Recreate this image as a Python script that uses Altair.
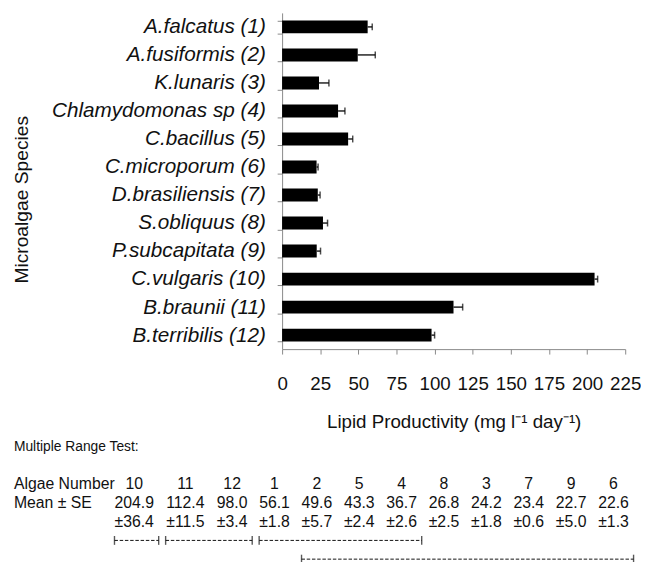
import altair as alt
import pandas as pd

# ---------------- data ----------------
species = ["A.falcatus (1)", "A.fusiformis (2)", "K.lunaris (3)", "Chlamydomonas sp (4)",
           "C.bacillus (5)", "C.microporum (6)", "D.brasiliensis (7)", "S.obliquus (8)",
           "P.subcapitata (9)", "C.vulgaris (10)", "B.braunii (11)", "B.terribilis (12)"]
algae_number = [1, 2, 3, 4, 5, 6, 7, 8, 9, 10, 11, 12]
mean_lp = [56.1, 49.6, 24.2, 36.7, 43.3, 22.6, 23.4, 26.8, 22.7, 204.9, 112.4, 98.0]
se_lp = [1.8, 5.7, 1.8, 2.6, 2.4, 1.3, 0.6, 2.5, 5.0, 36.4, 11.5, 3.4]
# error bar lengths as drawn in the figure
err_drawn = [3.0, 11.5, 6.5, 4.5, 3.0, 1.0, 1.5, 3.0, 2.5, 2.0, 6.0, 2.0]
x_ticks = [0, 25, 50, 75, 100, 125, 150, 175, 200, 225]

test_order = [10, 11, 12, 1, 2, 5, 4, 8, 3, 7, 9, 6]
groups_row1 = [(10, 10), (11, 12), (1, 4)]
groups_row2 = [(2, 6)]

FONT = "Liberation Sans"
INK = "#111111"
GREY = "#888888"

# ---------------- bar chart ----------------
bars_df = pd.DataFrame({
    "species": species,
    "mean": mean_lp,
    "hi": [m + e for m, e in zip(mean_lp, err_drawn)],
})

y_axis = alt.Axis(
    title="Microalgae Species", titleFontSize=19.5, titleFontWeight="normal",
    titleColor=INK, titleFont=FONT, titleX=-254, titleY=189,
    labelFont=FONT, labelFontSize=21, labelFontStyle="italic", labelColor=INK,
    labelPadding=12, tickBand="extent", tickSize=5, tickColor=GREY,
    domainColor=GREY, grid=False, labelLimit=400,
)
y_scale = alt.Scale(paddingInner=0.54, paddingOuter=0.27)
x_scale = alt.Scale(domain=[0, 225], nice=False)
x_axis = alt.Axis(
    values=x_ticks, title="Lipid Productivity (mg l\u207b\u00b9 day\u207b\u00b9)",
    titleFontSize=19, titleFontWeight="normal", titleColor=INK, titleFont=FONT,
    titlePadding=19, labelFont=FONT, labelFontSize=19, labelColor=INK,
    labelPadding=21, tickSize=5, tickColor=GREY, domainColor=GREY, grid=False,
    labelFlush=False, labelOverlap=False,
)


def xq(field):
    return alt.X(field, type="quantitative", scale=x_scale, axis=x_axis)


def ys():
    return alt.Y("species", type="nominal", sort=species, scale=y_scale, axis=y_axis)


bars = alt.Chart(bars_df).mark_bar(color="black").encode(x=xq("mean"), y=ys())
err_line = alt.Chart(bars_df).mark_rule(color="black", strokeWidth=1.3).encode(
    x=xq("mean"), x2="hi:Q", y=ys())
err_cap = alt.Chart(bars_df).mark_tick(color="black", size=7, thickness=1.5,
                                       orient="vertical").encode(x=xq("hi"), y=ys())

bar_chart = alt.layer(bars, err_line, err_cap).properties(width=348, height=341)

# ---------------- multiple range test table ----------------
char_w = {".": 0.278, "\u00b1": 0.584}


def em_width(s):
    return sum(char_w.get(c, 0.556) for c in s)


lookup_mean = dict(zip(algae_number, mean_lp))
lookup_se = dict(zip(algae_number, se_lp))
val_txt = [f"{lookup_mean[n]:.1f}" for n in test_order]
se_txt = [f"\u00b1{lookup_se[n]:.1f}" for n in test_order]

gap_em = 0.74
lefts, centers, rights = [], [], []
pos = 0.0
for t in val_txt:
    w = em_width(t)
    lefts.append(pos)
    centers.append(pos + w / 2)
    rights.append(pos + w)
    pos += w + gap_em

label_x = -6.375
cell_rows = []
cell_rows.append({"x": label_x, "row": 0, "text": "Multiple Range Test:", "kind": "small"})
cell_rows.append({"x": label_x, "row": 2, "text": "Algae Number", "kind": "label"})
cell_rows.append({"x": label_x, "row": 3, "text": "Mean \u00b1 SE", "kind": "label"})
col_rows = []
for i, n in enumerate(test_order):
    col_rows.append({"x": centers[i], "row": 2, "text": str(n)})
    col_rows.append({"x": centers[i], "row": 3, "text": val_txt[i]})
    col_rows.append({"x": centers[i], "row": 4, "text": se_txt[i]})

idx = {n: i for i, n in enumerate(test_order)}
br = []
for r, groups in ((5, groups_row1), (6, groups_row2)):
    for a, b in groups:
        br.append({"x": lefts[idx[a]], "x2": rights[idx[b]] + 0.3, "row": r})
br_df = pd.DataFrame(br)
ends_df = pd.DataFrame([{"x": d["x"], "row": d["row"]} for d in br] +
                       [{"x": d["x2"], "row": d["row"]} for d in br])

tx = alt.Scale(domain=[10.625, 10.625 + 348 / 16], nice=False, zero=False)
ty = alt.Scale(domain=[0, 6], reverse=True, nice=False, zero=False)
X = lambda f: alt.X(f, scale=tx, axis=None)
Y = lambda f: alt.Y(f, scale=ty, axis=None)

lab_df = pd.DataFrame(cell_rows)
small = alt.Chart(lab_df[lab_df.kind == "small"]).mark_text(
    align="left", baseline="middle", font=FONT, fontSize=14, color=INK).encode(
    x=X("x:Q"), y=Y("row:Q"), text="text:N")
labels = alt.Chart(lab_df[lab_df.kind == "label"]).mark_text(
    align="left", baseline="middle", font=FONT, fontSize=16, color=INK).encode(
    x=X("x:Q"), y=Y("row:Q"), text="text:N")
cols = alt.Chart(pd.DataFrame(col_rows)).mark_text(
    align="center", baseline="middle", font=FONT, fontSize=16, color=INK).encode(
    x=X("x:Q"), y=Y("row:Q"), text="text:N")
dash = alt.Chart(br_df).mark_rule(color=INK, strokeWidth=1, strokeDash=[3.5, 1.8]).encode(
    x=X("x:Q"), x2="x2:Q", y=Y("row:Q"))
ends = alt.Chart(ends_df).mark_tick(color=INK, size=9, thickness=1.4, orient="vertical").encode(
    x=X("x:Q"), y=Y("row:Q"))

table = alt.layer(small, labels, cols, dash, ends).properties(width=348, height=114)

chart = alt.vconcat(bar_chart, table, spacing=9).properties(
    padding={"left": 4, "top": -10, "right": 0, "bottom": 0}
).configure_view(stroke=None)

chart.save("out.html", embed_options={"renderer": "svg", "actions": False})
